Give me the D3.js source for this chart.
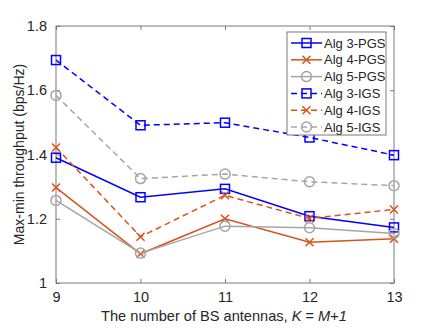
<!DOCTYPE html>
<html>
<head>
<meta charset="utf-8">
<script src="https://cdn.jsdelivr.net/npm/d3@7"></script>
<style>
  body { margin: 0; background: #fff; }
  svg text { font-family: "Liberation Sans", Arial, sans-serif; fill: #262626; }
</style>
</head>
<body>
<svg id="chart" width="436" height="328"></svg>
<script>
const width = 436;
const height = 328;
const margin = { top: 26, right: 42, bottom: 45, left: 56 };

// data
const antennas = [9, 10, 11, 12, 13];
const yTicks = [1, 1.2, 1.4, 1.6, 1.8];
const alg3PGS = [1.390, 1.267, 1.293, 1.208, 1.173];
const alg4PGS = [1.297, 1.091, 1.200, 1.127, 1.138];
const alg5PGS = [1.257, 1.093, 1.177, 1.172, 1.154];
const alg3IGS = [1.694, 1.491, 1.499, 1.453, 1.398];
const alg4IGS = [1.422, 1.144, 1.273, 1.201, 1.229];
const alg5IGS = [1.584, 1.325, 1.339, 1.315, 1.303];

const series = [
  { name: "Alg 3-PGS", values: alg3PGS, color: "#0000ff", marker: "square", dash: null },
  { name: "Alg 4-PGS", values: alg4PGS, color: "#d95319", marker: "cross", dash: null },
  { name: "Alg 5-PGS", values: alg5PGS, color: "#a6a6a6", marker: "circle", dash: null },
  { name: "Alg 3-IGS", values: alg3IGS, color: "#0000ff", marker: "square", dash: "6,4" },
  { name: "Alg 4-IGS", values: alg4IGS, color: "#d95319", marker: "cross", dash: "6,4" },
  { name: "Alg 5-IGS", values: alg5IGS, color: "#a6a6a6", marker: "circle", dash: "6,4" }
];

const svg = d3.select("svg#chart");
const iw = width - margin.left - margin.right;
const ih = height - margin.top - margin.bottom;

const x = d3.scaleLinear().domain([9, 13]).range([margin.left, margin.left + iw]);
const y = d3.scaleLinear().domain([1, 1.8]).range([margin.top + ih, margin.top]);

const axisColor = "#7a7a7a";

// box
svg.append("rect")
  .attr("x", margin.left).attr("y", margin.top)
  .attr("width", iw).attr("height", ih)
  .attr("fill", "none").attr("stroke", axisColor).attr("stroke-width", 1);

function styleAxis(g) {
  g.select(".domain").remove();
  g.selectAll(".tick line").attr("stroke", axisColor);
  g.selectAll(".tick text").attr("font-size", 14.5).attr("fill", "#262626");
}

svg.append("g")
  .attr("transform", `translate(0,${margin.top + ih})`)
  .call(d3.axisBottom(x).tickValues(antennas).tickFormat(d3.format("d")).tickSizeInner(-4).tickPadding(9))
  .call(styleAxis);
svg.append("g")
  .attr("transform", `translate(0,${margin.top})`)
  .call(d3.axisTop(x).tickValues(antennas).tickFormat("").tickSizeInner(-4))
  .call(styleAxis);
svg.append("g")
  .attr("transform", `translate(${margin.left},0)`)
  .call(d3.axisLeft(y).tickValues(yTicks).tickFormat(d => d === 1 ? "1" : d3.format(".1f")(d)).tickSizeInner(-4).tickPadding(9))
  .call(styleAxis);
svg.append("g")
  .attr("transform", `translate(${margin.left + iw},0)`)
  .call(d3.axisRight(y).tickValues(yTicks).tickFormat("").tickSizeInner(-4))
  .call(styleAxis);

// axis labels
const xl = svg.append("text")
  .attr("x", margin.left + iw / 2 - 1).attr("y", 321)
  .attr("text-anchor", "middle").attr("font-size", 14.6);
xl.append("tspan").text("The number of BS antennas, ");
xl.append("tspan").attr("font-style", "italic").text("K");
xl.append("tspan").text(" = ");
xl.append("tspan").attr("font-style", "italic").text("M");
xl.append("tspan").text("+");
xl.append("tspan").attr("font-style", "italic").text("1");

svg.append("text")
  .attr("transform", `translate(24,${margin.top + ih / 2}) rotate(-90)`)
  .attr("text-anchor", "middle").attr("font-size", 14)
  .text("Max-min throughput (bps/Hz)");

function drawMarker(g, type, color) {
  if (type === "square") {
    g.append("rect").attr("x", -4.5).attr("y", -4.5).attr("width", 9).attr("height", 9)
      .attr("fill", "none").attr("stroke", color).attr("stroke-width", 1.5);
  } else if (type === "circle") {
    g.append("circle").attr("r", 5)
      .attr("fill", "none").attr("stroke", color).attr("stroke-width", 1.5);
  } else {
    g.append("path").attr("d", "M-4,-4L4,4M-4,4L4,-4")
      .attr("fill", "none").attr("stroke", color).attr("stroke-width", 1.5);
  }
}

const line = d3.line().x((d, i) => x(antennas[i])).y(d => y(d));

const plot = svg.append("g");
series.forEach(s => {
  plot.append("path")
    .datum(s.values)
    .attr("d", line)
    .attr("fill", "none")
    .attr("stroke", s.color)
    .attr("stroke-width", 1.5)
    .attr("stroke-dasharray", s.dash);
  s.values.forEach((v, i) => {
    const g = plot.append("g").attr("transform", `translate(${x(antennas[i])},${y(v)})`);
    drawMarker(g, s.marker, s.color);
  });
});

// legend
const legend = svg.append("g").attr("transform", "translate(287,32)");
legend.append("rect")
  .attr("width", 99).attr("height", 103)
  .attr("fill", "#fff").attr("stroke", axisColor).attr("stroke-width", 1);
series.forEach((s, i) => {
  const ly = 11 + i * 16.8;
  const row = legend.append("g").attr("transform", `translate(0,${ly})`);
  row.append("line")
    .attr("x1", 4).attr("x2", 35).attr("y1", 0).attr("y2", 0)
    .attr("stroke", s.color).attr("stroke-width", 1.5)
    .attr("stroke-dasharray", s.dash);
  const m = row.append("g").attr("transform", "translate(19.5,0)");
  drawMarker(m, s.marker, s.color);
  row.append("text")
    .attr("x", 37).attr("y", 4.5)
    .attr("font-size", 13)
    .text(s.name);
});
</script>
</body>
</html>
